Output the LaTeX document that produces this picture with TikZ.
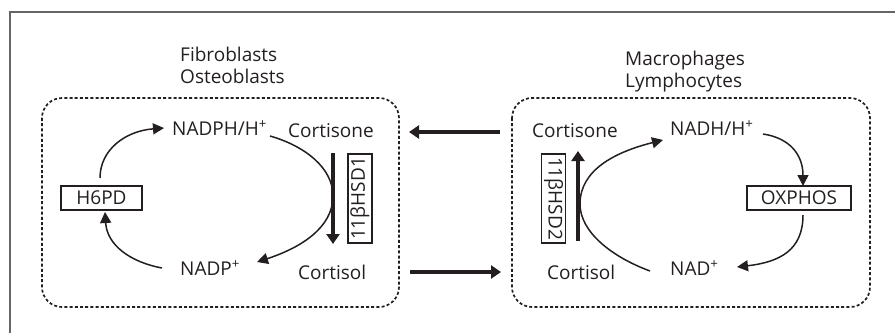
\documentclass[tikz,border=0pt]{standalone}
\usepackage{fontspec}
\setmainfont{Open Sans}
\usetikzlibrary{arrows.meta}
\definecolor{ink}{HTML}{231F20}
\begin{document}
\begin{tikzpicture}[x=1pt,y=-1pt,
  lab/.style={inner sep=0pt,anchor=base west,text=ink,font=\fontsize{19}{22}\selectfont},
  boxlab/.style={draw=ink,line width=1.4pt,inner sep=0pt,text=ink,font=\fontsize{19}{22}\selectfont},
  cell/.style={draw=ink,line width=1.7pt,dash pattern=on 3pt off 2.2pt,rounded corners=20pt},
  thin/.style={draw=ink,line width=1.5pt,-{Triangle[length=11pt,width=11pt]}},
  thick/.style={draw=ink,line width=3.2pt,-{Triangle[length=10pt,width=13pt]}},
  frame/.style={draw=black!60,line width=1.6pt}]
\useasboundingbox (0,0) rectangle (895,333);
\draw[frame] (10,333) -- (10,12) -- (895,12);
% cells
\draw[cell] (42,98) rectangle (399,307);
\draw[cell] (512,98) rectangle (870,307);
% titles
\node[lab] (fib) at (180,61) {Fibroblasts};
\node[lab] (ost) at (180,83) {Osteoblasts};
\node[lab] (mac) at (625,65) {Macrophages};
\node[lab] (lym) at (625,87) {Lymphocytes};
% left cell texts
\node[lab] (nadph) at (172,135) {NADPH/H\textsuperscript{+}};
\node[lab] (cortsL) at (288,137) {Cortisone};
\node[lab] (nadp) at (180,275) {NADP\textsuperscript{+}};
\node[lab] (cortlL) at (298,279) {Cortisol};
\node[boxlab,minimum width=81pt,minimum height=24pt] (h6pd) at (101.5,198) {H6PD};
\node[boxlab,minimum width=89pt,minimum height=24pt,rotate=90] (hsd1) at (360,198.5) {11βHSD1};
% right cell texts
\node[lab] (cortsR) at (532,137) {Cortisone};
\node[lab] (nadh) at (670,135) {NADH/H\textsuperscript{+}};
\node[lab] (nad) at (670,275) {NAD\textsuperscript{+}};
\node[lab] (cortlR) at (547,279) {Cortisol};
\node[boxlab,minimum width=104pt,minimum height=24pt] (ox) at (799,198) {OXPHOS};
\node[boxlab,minimum width=89pt,minimum height=24pt,rotate=-90] (hsd2) at (553.5,198.5) {11βHSD2};
% coordinates
\coordinate (v1a) at (333,153); \coordinate (v1b) at (333,244);
\coordinate (v2a) at (578,241); \coordinate (v2b) at (578,151);
\coordinate (c1s) at (270,136); \coordinate (c1m) at (333,196); \coordinate (c1e) at (257,262);
\coordinate (c2s) at (650,271); \coordinate (c2m) at (580,204); \coordinate (c2e) at (663,140);
\coordinate (h1s) at (100,178); \coordinate (h1e) at (164,128);
\coordinate (h2s) at (162,268); \coordinate (h2e) at (105,212);
\coordinate (o1s) at (763,134); \coordinate (o1e) at (803,186);
\coordinate (o2s) at (803,215); \coordinate (o2e) at (737,267);
\coordinate (tA) at (500,132); \coordinate (tB) at (409,132);
\coordinate (bA) at (410,272); \coordinate (bB) at (501,272);
% left cycle
\draw[thick] (v1a) -- (v1b);
\draw[thin] (c1s) .. controls (305,146) and (333,168) .. (c1m) .. controls (333,228) and (300,248) .. (c1e);
\draw[thin] (h1s) .. controls (100,150) and (125,131) .. (h1e);
\draw[thin] (h2s) .. controls (130,262) and (107,245) .. (h2e);
% right cycle
\draw[thick] (v2a) -- (v2b);
\draw[thin] (c2s) .. controls (612,257) and (580,232) .. (c2m) .. controls (580,170) and (615,152) .. (c2e);
\draw[thin] (o1s) .. controls (790,138) and (803,155) .. (o1e);
\draw[thin] (o2s) .. controls (803,250) and (780,262) .. (o2e);
% between cells
\draw[thick] (tA) -- (tB);
\draw[thick] (bA) -- (bB);
\end{tikzpicture}
\end{document}
